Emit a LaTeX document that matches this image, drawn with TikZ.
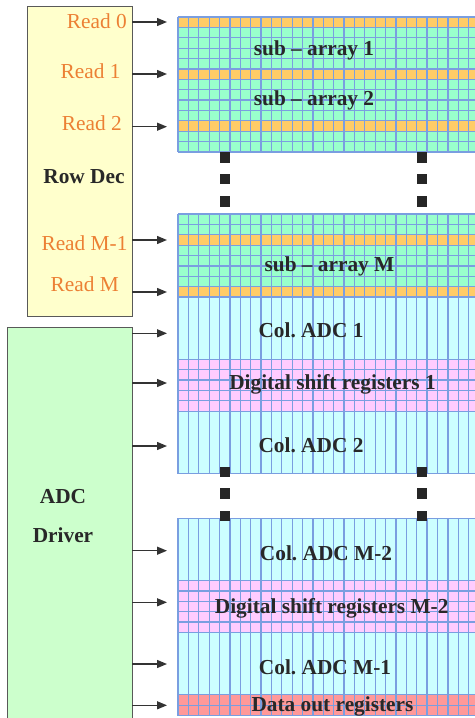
\documentclass[tikz,border=0pt]{standalone}
\usepackage{fontspec}
\setmainfont{Liberation Serif}
\usetikzlibrary{arrows.meta,positioning,calc}
\definecolor{CellLine}{RGB}{122,158,224}
\definecolor{CellGreen}{RGB}{153,255,204}
\definecolor{CellOrange}{RGB}{255,204,102}
\definecolor{CellCyan}{RGB}{204,255,255}
\definecolor{CellPink}{RGB}{255,204,255}
\definecolor{CellRed}{RGB}{255,153,153}
\definecolor{ReadOrange}{RGB}{236,128,52}
\definecolor{DecYellow}{RGB}{255,255,204}
\definecolor{DrvGreen}{RGB}{204,255,204}
\definecolor{LabelDark}{RGB}{40,40,40}
\frenchspacing

\newcommand{\cell}{10.38}
% vertical cell lines of one band: top, rows
\newcommand{\cellcols}[2]{%
  \foreach \j in {0,...,29}
    \draw[gridline] ({178+\j*\cell},{#1}) -- ++(0,{(#2)*\cell});
}
% horizontal cell lines of one band: top, rows
\newcommand{\cellrows}[2]{%
  \foreach \i in {0,...,#2}
    \draw[gridline] (178,{(#1)+\i*\cell}) -- (480,{(#1)+\i*\cell});
}

\begin{document}
\begin{tikzpicture}[
  x=0.75pt, y=-0.75pt,
  gridline/.style={draw=CellLine, line width=0.95pt},
  blockbox/.style={
    rectangle,
    draw=black!65,
    line width=1pt,
    inner sep=0pt,
    outer sep=0pt,
    anchor=north west
  },
  readlbl/.style={
    font=\fontsize{16}{19}\selectfont,
    text=ReadOrange,
    inner sep=0pt,
    anchor=east
  },
  bandlbl/.style={
    font=\fontsize{16}{19}\selectfont\bfseries,
    text=LabelDark,
    inner sep=0pt,
    anchor=base
  },
  dotsq/.style={fill=black!85},
  arr/.style={-{Triangle[length=7.5pt,width=6pt]}, line width=1pt, draw=black!80}
]
\useasboundingbox (0,0) rectangle (475,718);
\clip (0,0) rectangle (475,718);

% decoder and driver boxes
\node[blockbox, fill=DecYellow, minimum width=78.5pt, minimum height=232.5pt] (rowdec) at (27.7,6.7) {};
\node[blockbox, fill=DrvGreen, minimum width=93.75pt, minimum height=310pt] (adcdrv) at (7.3,327.7) {};
\node[bandlbl] (rowdeclbl) at (84,183.3) {Row Dec};
\node[bandlbl] (adclbl) at (63,503.3) {ADC};
\node[bandlbl] (drvlbl) at (63,542.7) {Driver};

% band fills
\fill[CellGreen] (178,17) rectangle (480,{17+13*\cell});
\foreach \r in {0,5,10}
  \fill[CellOrange] (178,{17+\r*\cell}) rectangle ++(302,\cell);
\fill[CellGreen] (178,214) rectangle (480,{214+8*\cell});
\foreach \r in {2,7}
  \fill[CellOrange] (178,{214+\r*\cell}) rectangle ++(302,\cell);
\fill[CellCyan] (178,{214+8*\cell}) rectangle (480,{214+14*\cell});
\fill[CellPink] (178,{214+14*\cell}) rectangle (480,{214+19*\cell});
\fill[CellCyan] (178,{214+19*\cell}) rectangle (480,{214+25*\cell});
\fill[CellCyan] (178,518.3) rectangle (480,{518.3+6*\cell});
\fill[CellPink] (178,{518.3+6*\cell}) rectangle (480,{518.3+11*\cell});
\fill[CellCyan] (178,{518.3+11*\cell}) rectangle (480,{518.3+17*\cell});
\fill[CellRed] (178,{518.3+17*\cell}) rectangle (480,{518.3+19*\cell});

% band lines
\cellcols{17}{13}
\cellrows{17}{13}
\cellcols{214}{25}
\cellrows{214}{8}
\cellrows{214+14*\cell}{5}
\draw[gridline] (178,{214+25*\cell}) -- (480,{214+25*\cell});
\cellcols{518.3}{19}
\draw[gridline] (178,518.3) -- (480,518.3);
\cellrows{518.3+6*\cell}{5}
\cellrows{518.3+17*\cell}{2}

% gap dots
\foreach \xx in {219.5,416.5}{
  \foreach \yy in {152,173.5,196}
    \fill[dotsq] (\xx,\yy) rectangle ++(10.5,10.8);
  \foreach \yy in {466.5,488,510.5}
    \fill[dotsq] (\xx,\yy) rectangle ++(10.5,10.5);
}

% band labels
\node[bandlbl] (sub1) at (314,55) {sub – array 1};
\node[bandlbl] (sub2) at (314,105) {sub – array 2};
\node[bandlbl] (subM) at (329.5,271.7) {sub – array M};
\node[bandlbl] (adc1) at (311,337.7) {Col. ADC 1};
\node[bandlbl] (dsr1) at (332.5,389.3) {Digital shift registers 1};
\node[bandlbl] (adc2) at (311,452.7) {Col. ADC 2};
\node[bandlbl] (adcM2) at (326,560) {Col. ADC M-2};
\node[bandlbl] (dsrM2) at (331.7,613) {Digital shift registers M-2};
\node[bandlbl] (adcM1) at (325,674.3) {Col. ADC M-1};
\node[bandlbl] (dout) at (332.5,711.7) {Data out registers};

% read lines
\node[readlbl] (read0) at (127,21.5) {Read 0};
\node[readlbl] (read1) at (120.7,71.5) {Read 1};
\node[readlbl] (read2) at (122,123.5) {Read 2};
\node[readlbl] (readM1) at (127.7,243) {Read M-1};
\node[readlbl] (readM) at (119,284) {Read M};

\coordinate (in0) at (167,22);
\coordinate (in1) at (167,74);
\coordinate (in2) at (167,126.7);
\coordinate (inM1) at (167,240);
\coordinate (inM) at (167,292);
\foreach \t in {in0,in1,in2,inM1,inM}
  \draw[arr] (rowdec.east |- \t) -- (\t);

% driver lines
\coordinate (d1) at (167,333.3);
\coordinate (d2) at (167,383);
\coordinate (d3) at (167,446);
\coordinate (d4) at (167,550.7);
\coordinate (d5) at (167,602.3);
\coordinate (d6) at (167,664);
\coordinate (d7) at (167,705.3);
\foreach \t in {d1,d2,d3,d4,d5,d6,d7}
  \draw[arr] (adcdrv.east |- \t) -- (\t);
\end{tikzpicture}
\end{document}
